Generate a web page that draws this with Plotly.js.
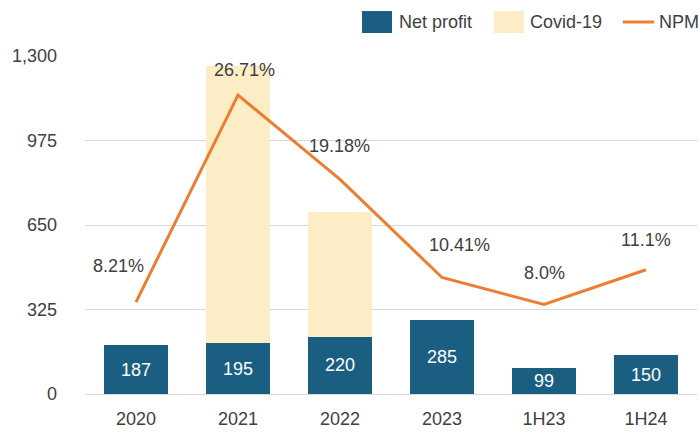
<!DOCTYPE html>
<html>
<head>
<meta charset="utf-8">
<script src="https://cdn.plot.ly/plotly-3.0.1.min.js"></script>
<style>html,body{margin:0;padding:0;background:#fff;}#chart{width:700px;height:435px;}</style>
</head>
<body>
<div id="chart"></div>
<script>
const categories = ["2020", "2021", "2022", "2023", "1H23", "1H24"];
const netProfit = [187, 195, 220, 285, 99, 150];
const covid = [0, 1065, 480, 0, 0, 0];
const npm = [8.21, 26.71, 19.18, 10.41, 8.0, 11.1];
const npmLabels = ["8.21%", "26.71%", "19.18%", "10.41%", "8.0%", "11.1%"];
const yTicks = [0, 325, 650, 975, 1300];
const yTickText = ["0", "325", "650", "975", "1,300"];
const legendNames = ["Net profit", "Covid-19", "NPM"];

// label offsets (style only, pixels)
const labelDx = [-18, 6, -1, 17, 0, 0];
const labelDy = [36, 25, 33, 32, 31, 30];

const FONT = "'Liberation Sans', Arial, sans-serif";
const FS = 18;
const TXT = "#404040";
const BLUE = "#1a5e82";
const CREAM = "#fdedc6";
const ORANGE = "#ed7d31";

const traces = [
  {
    type: "bar", name: legendNames[0], x: categories, y: netProfit,
    marker: {color: BLUE},
    text: netProfit.map(String), textposition: "inside", insidetextanchor: "middle",
    textangle: 0, constraintext: "none",
    textfont: {color: "#ffffff", size: FS, family: FONT},
    hoverinfo: "x+y", showlegend: false
  },
  {
    type: "bar", name: legendNames[1], x: categories, y: covid,
    marker: {color: CREAM}, hoverinfo: "x+y", showlegend: false
  },
  {
    type: "scatter", mode: "lines", name: legendNames[2], x: categories, y: npm, yaxis: "y2",
    line: {color: ORANGE, width: 3}, hoverinfo: "x+y", showlegend: false
  }
];

// x given as category index so the category axis is not read as numeric
const annotations = categories.map((c, i) => ({
  x: i, y: npm[i], xref: "x", yref: "y2", text: npmLabels[i], showarrow: false,
  yshift: labelDy[i], xshift: labelDx[i],
  font: {size: FS, color: TXT, family: FONT}
}));

// custom legend (paper coordinates)
const legendItems = [
  {x0: 0.4526, x1: 0.5016, type: "rect", color: BLUE, tx: 0.5098},
  {x0: 0.668, x1: 0.717, type: "rect", color: CREAM, tx: 0.7239},
  {x0: 0.879, x1: 0.930, type: "line", color: ORANGE, tx: 0.9346}
];
const shapes = legendItems.map(it => it.type === "rect"
  ? {type: "rect", xref: "paper", yref: "paper", x0: it.x0, x1: it.x1, y0: 1.068, y1: 1.133, fillcolor: it.color, line: {width: 0}}
  : {type: "line", xref: "paper", yref: "paper", x0: it.x0, x1: it.x1, y0: 1.1006, y1: 1.1006, line: {color: it.color, width: 3}});
legendItems.forEach((it, i) => annotations.push({
  x: it.tx, y: 1.1006, xref: "paper", yref: "paper", text: legendNames[i], showarrow: false,
  xanchor: "left", yanchor: "middle", font: {size: FS, color: TXT, family: FONT}
}));

const layout = {
  width: 700, height: 435,
  margin: {l: 85, r: 3, t: 56, b: 41},
  paper_bgcolor: "#ffffff", plot_bgcolor: "#ffffff",
  barmode: "stack", bargap: 0.38,
  showlegend: false,
  font: {family: FONT, color: TXT, size: FS},
  xaxis: {
    type: "category", categoryorder: "array", categoryarray: categories,
    range: [-0.5, categories.length - 0.5],
    tickfont: {size: FS, color: TXT, family: FONT},
    showgrid: false, showline: false, ticks: "", zeroline: false,
    ticklabelstandoff: 12
  },
  yaxis: {
    range: [0, 1300], tickvals: yTicks, ticktext: yTickText,
    tickfont: {size: FS, color: TXT, family: FONT},
    showgrid: true, gridcolor: "#d9d9d9", gridwidth: 1,
    zeroline: true, zerolinecolor: "#d9d9d9", zerolinewidth: 1,
    showline: false, ticks: "", ticklabelstandoff: 27
  },
  yaxis2: {
    overlaying: "y", side: "right", range: [0, 30.2], visible: false, showgrid: false, zeroline: false
  },
  annotations: annotations,
  shapes: shapes
};

Plotly.newPlot("chart", traces, layout, {displayModeBar: false, staticPlot: true});
</script>
</body>
</html>
